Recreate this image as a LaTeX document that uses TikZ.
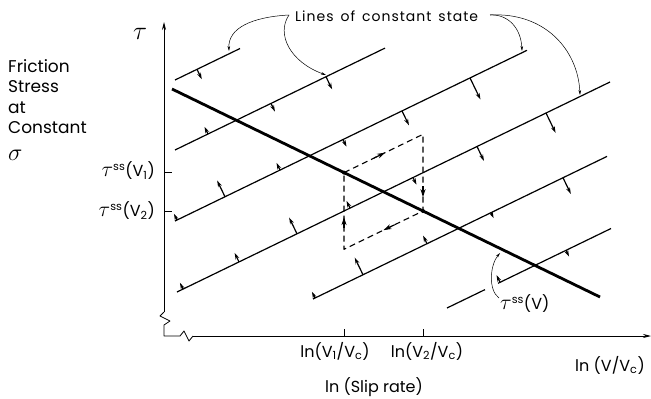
\documentclass[tikz,border=0pt]{standalone}
\usepackage{fontspec}
\setmainfont{Poppins}
\usetikzlibrary{arrows.meta,calc}
\newcommand\tkup[4]{\draw[tk] ({#3},{#2-0.485*(#3-#1)}) -- ++({-0.436*#4},{-0.9*#4});}
\newcommand\tkdn[4]{\draw[tk] ({#3},{#2-0.485*(#3-#1)}) -- ++({0.436*#4},{0.9*#4});}
\newcommand\btau{\scalebox{1.25}{$\tau$}}
\begin{document}
\begin{tikzpicture}[x=1pt,y=-1pt,line join=round,
  axis/.style={line width=0.8pt},
  csl/.style={line width=1.2pt},
  ssl/.style={line width=2.8pt},
  tk/.style={line width=1.2pt,-{Stealth[length=6.5pt,width=4pt]}},
  ann/.style={line width=0.5pt,-{Stealth[length=5pt,width=2.6pt]}},
  dsh/.style={line width=1.1pt,dash pattern=on 6pt off 4pt},
  darr/.style={line width=1.2pt,-{Stealth[length=8pt,width=5pt]}},
  lab/.style={inner sep=0pt,font=\fontsize{16}{18}\selectfont},
  small/.style={inner sep=0pt,font=\fontsize{14}{16}\selectfont\addfontfeature{LetterSpace=7}}]
\useasboundingbox (0,0) rectangle (651,399);

% axes
\draw[axis,-{Stealth[length=8pt,width=4pt]}] (164,312) -- (164,22);
\draw[axis] (164,312) -- (160,316) -- (170,321) -- (164,325) -- (164,336) -- (180,336) -- (184,331) -- (189,341) -- (193,336);
\draw[axis,-{Stealth[length=8pt,width=4pt]}] (193,336) -- (651,336);
\draw[axis] (344,336) -- (344,329);
\draw[axis] (423,336) -- (423,329);
\draw[axis] (164,172) -- (172,172);
\draw[axis] (164,211) -- (172,211);

% lines of constant state
\coordinate (L1a) at (175,80);  \coordinate (L1b) at (240,48.5);
\coordinate (L2a) at (175,150); \coordinate (L2b) at (385,48.1);
\coordinate (L3a) at (175,221); \coordinate (L3b) at (527,50.3);
\coordinate (L4a) at (177,292); \coordinate (L4b) at (610,82);
\coordinate (L5a) at (313,299); \coordinate (L5b) at (607,156.4);
\coordinate (L6a) at (447,308); \coordinate (L6b) at (611,228.5);
\draw[csl] (L1a) -- (L1b);
\draw[csl] (L2a) -- (L2b);
\draw[csl] (L3a) -- (L3b);
\draw[csl] (L4a) -- (L4b);
\draw[csl] (L5a) -- (L5b);
\draw[csl] (L6a) -- (485,289.6) (498,283.3) -- (L6b);

% steady state line
\coordinate (S1) at (172,89); \coordinate (S2) at (600,297);
\draw[ssl] (S1) -- (S2);

% small arrows
\tkdn{175}{80}{197}{11}
\tkup{175}{150}{208}{8}
\tkdn{175}{150}{271}{9}
\tkdn{175}{150}{326}{14}
\tkup{175}{221}{177}{7}
\tkup{175}{221}{225}{18}
\tkup{175}{221}{280}{8}
\tkdn{175}{221}{343}{8}
\tkdn{175}{221}{402}{16}
\tkdn{175}{221}{470}{24}
\tkup{177}{292}{183}{7}
\tkup{177}{292}{239}{10}
\tkup{177}{292}{297}{18}
\tkup{177}{292}{350}{8}
\tkdn{177}{292}{413}{8}
\tkdn{177}{292}{477}{16}
\tkdn{177}{292}{546}{22}
\tkup{313}{299}{315}{7}
\tkup{313}{299}{363}{19}
\tkup{313}{299}{427}{9}
\tkdn{313}{299}{491}{6}
\tkdn{313}{299}{563}{18}
\tkup{447}{308}{500}{8}
\tkdn{447}{308}{566}{7}

% dashed cycle
\coordinate (P1) at (344,172.6);
\coordinate (P2) at (423,134.3);
\coordinate (P3) at (423,211);
\coordinate (P4) at (344,249.3);
\draw[dsh] (P1) -- (P2) -- (P3) -- (P4) -- cycle;
\draw[darr] ($(P1)!0.38!(P2)$) -- ($(P1)!0.52!(P2)$);
\draw[darr] ($(P2)!0.68!(P3)$) -- ($(P2)!0.82!(P3)$);
\draw[darr] ($(P3)!0.36!(P4)$) -- ($(P3)!0.50!(P4)$);
\draw[darr] ($(P4)!0.28!(P1)$) -- ($(P4)!0.42!(P1)$);
\fill (P1) circle (2pt);
\fill (P3) circle (2pt);

% labels
\node[small,anchor=base west] (lcs) at (295,21) {Lines\, of\, constant\, state};
\coordinate (cl) at (289,15);
\coordinate (cr) at (490,15);
\draw[ann] (cl) .. controls (252,17) and (228,28) .. (229,51);
\draw[ann] (cl) .. controls (276,34) and (290,62) .. (326,75);
\draw[ann] (cr) .. controls (508,14) and (521,28) .. (522,51);
\draw[ann] (cr) .. controls (545,12) and (578,50) .. (580,95);

\node[lab,anchor=west] (tssv) at (500,304) {\btau\textsuperscript{ss}(V)};
\draw[ann] (499,298) .. controls (488,290) and (490,265) .. (500,253);

\node[inner sep=0pt,font=\fontsize{20}{20}\selectfont] (tau) at (140,34) {\btau};
\node[inner sep=0pt,anchor=north west,align=left,font=\fontsize{17}{20.6}\selectfont] (ylab) at (8,59)
  {Friction\\Stress\\at\\Constant};
\node[inner sep=0pt,anchor=north west,font=\fontsize{17}{20}\selectfont] (sig) at (8,150) {\scalebox{1.4}{$\sigma$}};
\node[lab,anchor=east] (t1) at (155,171) {\btau\textsuperscript{ss}(V\textsubscript{1})};
\node[lab,anchor=east] (t2) at (155,211) {\btau\textsuperscript{ss}(V\textsubscript{2})};
\node[lab] (x1) at (335,351) {ln(V\textsubscript{1}/V\textsubscript{c})};
\node[lab] (x2) at (427,351) {ln(V\textsubscript{2}/V\textsubscript{c})};
\node[lab] (xv) at (610,365) {ln (V/V\textsubscript{c})};
\node[lab] (xs) at (374,387) {ln (Slip rate)};
\end{tikzpicture}
\end{document}
